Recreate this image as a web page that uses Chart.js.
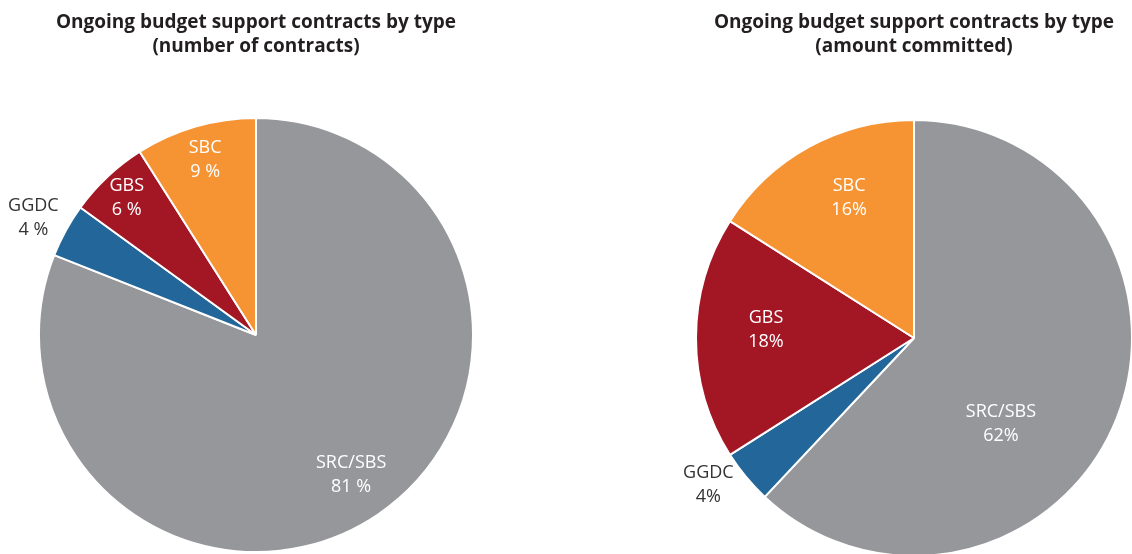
<!DOCTYPE html>
<html>
<head>
<meta charset="utf-8">
<script src="https://cdn.jsdelivr.net/npm/chart.js@4/dist/chart.umd.min.js"></script>
<style>
  html, body { margin: 0; padding: 0; background: #fff; overflow: hidden; }
  body { width: 1132px; height: 554px; position: relative; }
  .box { position: absolute; top: 0; height: 554px; }
</style>
</head>
<body>
<div class="box" style="left:0; width:512px;"><canvas id="countChart"></canvas></div>
<div class="box" style="left:631px; width:566px;"><canvas id="amountChart"></canvas></div>
<script>
// data (shares in %)
const categories = ['SRC/SBS', 'GGDC', 'GBS', 'SBC'];
const contractShares = [81, 4, 6, 9];
const amountShares = [62, 4, 18, 16];
const sliceColors = ['#96979b', '#236699', '#a31624', '#f69433'];

// draws "name / value" inside (or just outside) each slice
const sliceLabels = {
  id: 'sliceLabels',
  afterDatasetsDraw(chart, args, opts) {
    const ctx = chart.ctx;
    const meta = chart.getDatasetMeta(0);
    const values = chart.data.datasets[0].data;
    ctx.save();
    ctx.font = '18px "Open Sans"';
    ctx.textAlign = 'center';
    ctx.textBaseline = 'middle';
    meta.data.forEach(function(arc, i) {
      const p = arc.getProps(['x', 'y', 'startAngle', 'endAngle', 'outerRadius'], true);
      const a = (p.startAngle + p.endAngle) / 2 + opts.shift[i] * Math.PI / 180;
      const r = p.outerRadius * opts.dist[i];
      const x = p.x + Math.cos(a) * r;
      const y = p.y + Math.sin(a) * r;
      ctx.fillStyle = opts.dist[i] > 1 ? '#333333' : '#ffffff';
      ctx.fillText(chart.data.labels[i], x, y - 12);
      ctx.fillText(values[i] + opts.suffix, x, y + 12);
    });
    ctx.restore();
  }
};

function makePie(id, values, subtitle, radius, titleGap, labelOpts) {
  return new Chart(document.getElementById(id), {
    type: 'pie',
    data: {
      labels: categories,
      datasets: [{
        data: values,
        backgroundColor: sliceColors,
        borderColor: '#ffffff',
        borderWidth: 2
      }]
    },
    options: {
      responsive: true,
      maintainAspectRatio: false,
      animation: false,
      radius: radius,
      layout: { padding: 0 },
      plugins: {
        legend: { display: false },
        tooltip: { enabled: false },
        title: {
          display: true,
          text: ['Ongoing budget support contracts by type', subtitle],
          color: '#231f20',
          font: { family: '"Open Sans"', size: 19, weight: 'bold', lineHeight: 1.263 },
          padding: { top: 11, bottom: titleGap }
        },
        sliceLabels: labelOpts
      }
    },
    plugins: [sliceLabels]
  });
}

makePie('countChart', contractShares, '(number of contracts)', 217, 57, {
  dist: [0.78, 1.16, 0.87, 0.84],
  shift: [0, -1, 0, 0],
  suffix: ' %'
});

makePie('amountChart', amountShares, '(amount committed)', 218, 63, {
  dist: [0.56, 1.16, 0.68, 0.71],
  shift: [23, 4, 3, 4],
  suffix: '%'
});
</script>
</body>
</html>
